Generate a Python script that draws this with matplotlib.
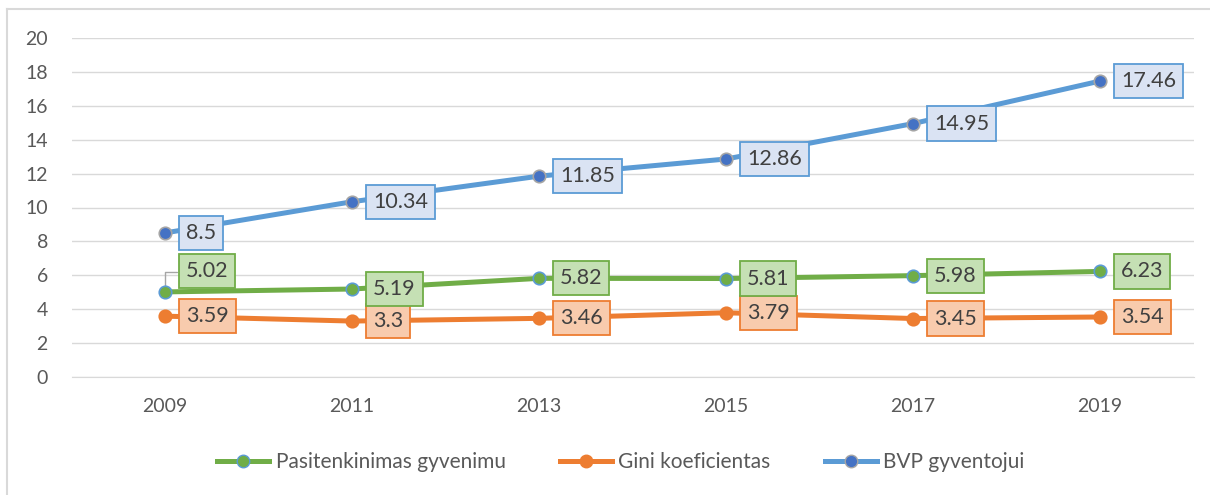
import matplotlib.pyplot as plt
from matplotlib.lines import Line2D

years = ['2009', '2011', '2013', '2015', '2017', '2019']
satisfaction = [5.02, 5.19, 5.82, 5.81, 5.98, 6.23]
gini = [3.59, 3.3, 3.46, 3.79, 3.45, 3.54]
gdp = [8.5, 10.34, 11.85, 12.86, 14.95, 17.46]

plt.rcParams['font.family'] = ['Lato', 'DejaVu Sans']

GREEN = '#70AD47'
ORANGE = '#ED7D31'
BLUE = '#5B9BD5'
DARKBLUE = '#4472C4'
TEXT = '#595959'
FS = 14

fig = plt.figure(figsize=(12.1, 4.95), dpi=100)
ax = fig.add_axes([71.5 / 1210, 1 - 377 / 495, 1122 / 1210, 339 / 495])

x = list(range(len(years)))

ax.plot(x, gdp, color=BLUE, lw=3.6, marker='o', ms=9, mfc=DARKBLUE,
        mec='#A5A5A5', mew=1.2, zorder=3, solid_capstyle='round')
ax.plot(x, gini, color=ORANGE, lw=3.6, marker='o', ms=9, mfc=ORANGE,
        mec=ORANGE, mew=1.2, zorder=3, solid_capstyle='round')
ax.plot(x, satisfaction, color=GREEN, lw=3.6, marker='o', ms=9, mfc=GREEN,
        mec=BLUE, mew=1.2, zorder=4, solid_capstyle='round')


def label(xi, yi, txt, face, edge, dy=0):
    ax.annotate(txt, (xi, yi), xytext=(15, dy), textcoords='offset points',
                ha='left', va='center', fontsize=15.5, color='#404040',
                bbox=dict(boxstyle='square,pad=0.33', fc=face, ec=edge, lw=1.3),
                zorder=6)


for i in x:
    label(i, gdp[i], f'{gdp[i]:g}', '#DAE3F3', BLUE)
    label(i, gini[i], f'{gini[i]:g}', '#F8CBAD', ORANGE)
    dy = 15 if i == 0 else 0
    label(i, satisfaction[i], f'{satisfaction[i]:g}', '#C5E0B4', GREEN, dy)

# leader line for the lifted 2009 label
ax.annotate('', (0, satisfaction[0]), xytext=(0.08, 6.2),
            arrowprops=dict(arrowstyle='-', color='#A5A5A5', lw=1,
                            connectionstyle='angle,angleA=0,angleB=90,rad=0'),
            zorder=2)

ax.set_xlim(-0.5, len(years) - 0.5)
ax.set_ylim(0, 20)
ax.set_yticks(range(0, 21, 2))
ax.set_xticks(x)
ax.set_xticklabels(years)
ax.grid(axis='y', color='#D9D9D9', lw=1)
ax.set_axisbelow(True)
for s in ['top', 'right', 'left']:
    ax.spines[s].set_visible(False)
ax.spines['bottom'].set_color('#D9D9D9')
ax.tick_params(axis='both', length=0, labelsize=FS, labelcolor=TEXT)
ax.tick_params(axis='y', pad=17)
ax.tick_params(axis='x', pad=15)

handles = [
    Line2D([], [], color=GREEN, lw=3.6, marker='o', ms=9, mfc=GREEN, mec=BLUE),
    Line2D([], [], color=ORANGE, lw=3.6, marker='o', ms=9, mfc=ORANGE, mec=ORANGE),
    Line2D([], [], color=BLUE, lw=3.6, marker='o', ms=9, mfc=DARKBLUE, mec='#A5A5A5'),
]
leg = fig.legend(handles, ['Pasitenkinimas gyvenimu', 'Gini koeficientas', 'BVP gyventojui'],
                 loc='center', bbox_to_anchor=(0.513, 1 - 462 / 495), ncol=3,
                 frameon=False, fontsize=15, handlelength=2.5, columnspacing=2.6,
                 handletextpad=0.3)
for t in leg.get_texts():
    t.set_color(TEXT)

# chart border (left and top edges visible)
fig.add_artist(Line2D([7 / 1210, 7 / 1210], [0, 1 - 9 / 495], color='#D9D9D9', lw=1.5))
fig.add_artist(Line2D([7 / 1210, 1], [1 - 9 / 495, 1 - 9 / 495], color='#D9D9D9', lw=1.5))

fig.savefig('out.png', dpi=100)
